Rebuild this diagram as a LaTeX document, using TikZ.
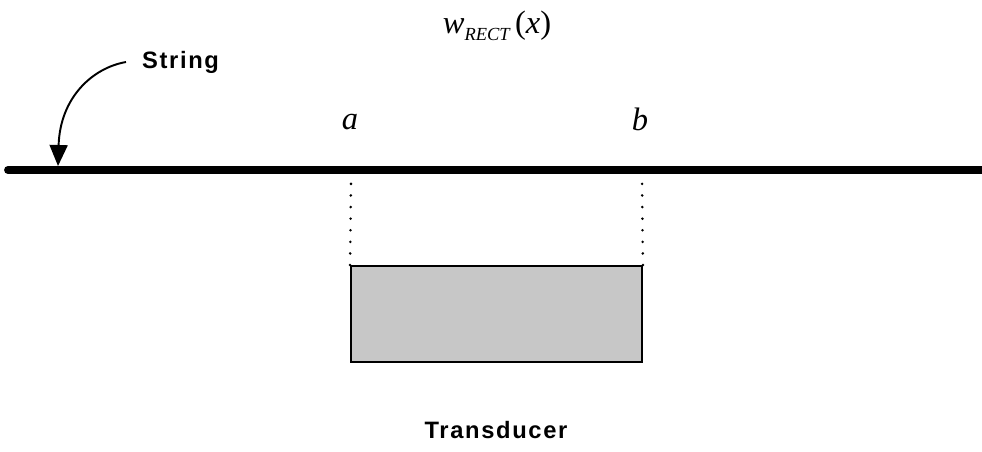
\documentclass[tikz,border=0pt]{standalone}
\usepackage{fontspec}
\setmainfont{Liberation Serif}
\newfontfamily\labelfont[LetterSpace=7]{Liberation Sans}
\usetikzlibrary{positioning, arrows.meta}
\tikzset{
  lbl/.style={font=\labelfont\bfseries\fontsize{13.5}{15}\selectfont},
  var/.style={font=\itshape\fontsize{18.5}{20}\selectfont},
  stringline/.style={line width=4.5pt, line cap=round},
  guide/.style={line width=1.6pt, line cap=round, dash pattern=on 0pt off 6.6pt},
  box/.style={draw, rectangle, line width=1.1pt, fill=black!22,
              minimum width=5.82cm, minimum height=1.92cm}
}

\begin{document}
\begin{tikzpicture}[x=0.02cm, y=-0.02cm, >=Triangle]
  \useasboundingbox (0,0) rectangle (982,452);

  \coordinate (left)  at (8,170);
  \coordinate (right) at (990,170);
  \draw[stringline] (left) -- (right);

  \node[var] (w) at (497,26)
    {w\raisebox{-4pt}{\fontsize{10.5}{10}\selectfont RECT}\hspace{3pt}{\upshape(}x{\upshape)}};
  \node[var, anchor=base] (a) at (350,130) {a};
  \node[var, anchor=base] (b) at (640,131) {b};

  \node[box] (transducer) at (496.5,314) {};
  \node[lbl] (tlbl) at (496,430) {Transducer};

  % dotted guides up to the string
  \coordinate (da) at (351,181);
  \coordinate (db) at (642,181);
  \draw[guide] (transducer.north west) -- (da);
  \draw[guide] (transducer.north east) -- (db);

  \node[lbl, anchor=west, inner xsep=9pt] (slbl) at (126,62) {String};
  \coordinate (hit) at (58,166);
  \draw[line width=1.1pt, -{Triangle[length=0.42cm, width=0.36cm]}]
    (slbl.west) .. controls (92,68) and (60,98) .. (hit);
\end{tikzpicture}
\end{document}
